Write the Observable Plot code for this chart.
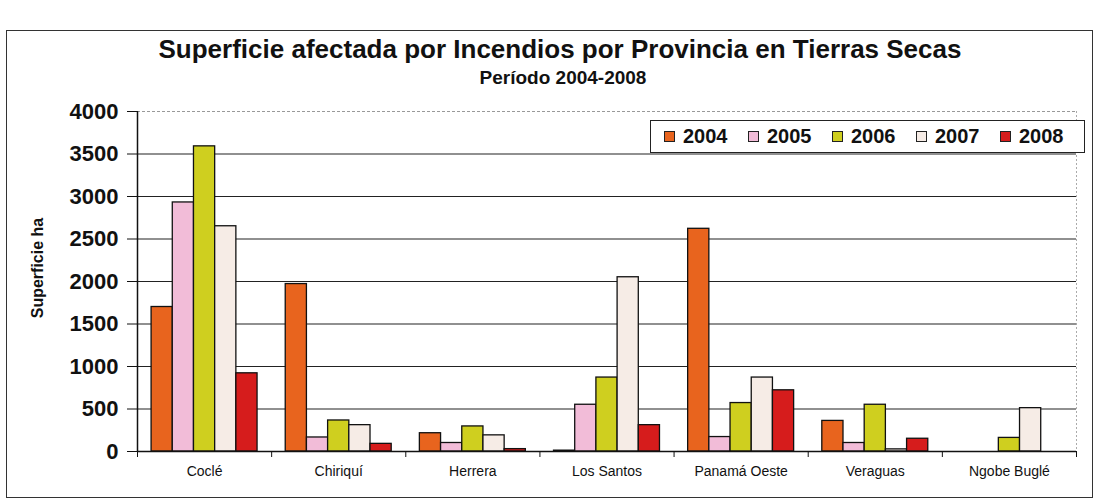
<!DOCTYPE html>
<html><head><meta charset="utf-8">
<script src="https://cdn.jsdelivr.net/npm/d3@7"></script>
<script src="https://cdn.jsdelivr.net/npm/@observablehq/plot@0.6"></script>
<style>
body{margin:0;background:#fff;font-family:"Liberation Sans",Arial,sans-serif;color:#111;}
#wrap{position:relative;width:1102px;height:500px;overflow:hidden;background:#fff;}
#frame{position:absolute;left:6px;top:30px;width:1087px;height:468px;border:1.5px solid #333;box-sizing:border-box;}
#title{position:absolute;left:9px;width:1102px;top:34px;text-align:center;font-weight:bold;font-size:26px;line-height:30px;}
#subtitle{position:absolute;left:12px;width:1102px;top:67px;text-align:center;font-weight:bold;font-size:19px;line-height:22px;}
#ylabel{position:absolute;left:38px;top:268px;transform:translate(-50%,-50%) rotate(-90deg);font-weight:bold;font-size:16px;white-space:nowrap;}
#chart{position:absolute;left:0;top:0;}
#legend{position:absolute;left:650px;top:120px;width:435px;height:33px;border:1.5px solid #222;box-sizing:border-box;background:#fff;display:flex;align-items:center;padding-left:13px;}
.item{width:87px;display:flex;align-items:center;font-size:20px;font-weight:bold;}
.sw{width:9px;height:9px;border:1px solid #222;margin-right:8px;}
</style>
</head><body>
<div id="wrap">
  <div id="frame"></div>
  <div id="chart"></div>
  <div id="title"></div>
  <div id="subtitle"></div>
  <div id="ylabel"></div>
  <div id="legend"></div>
</div>
<script>
const titleText = "Superficie afectada por Incendios por Provincia en Tierras Secas";
const subtitleText = "Período 2004-2008";
const yLabel = "Superficie ha";
const provinces = ["Coclé","Chiriquí","Herrera","Los Santos","Panamá Oeste","Veraguas","Ngobe Buglé"];
const years = ["2004","2005","2006","2007","2008"];
const v2004 = [1700,1970,215,10,2620,360,0];
const v2005 = [2930,165,100,550,170,100,0];
const v2006 = [3590,365,295,870,570,550,160];
const v2007 = [2650,310,190,2050,870,25,510];
const v2008 = [920,90,28,310,720,150,0];
const yTicks = [0,500,1000,1500,2000,2500,3000,3500,4000];
const colors = ["#e8641e","#f2bcd8","#cfcf1f","#f6ece6","#d61c1c"];

const series = [v2004,v2005,v2006,v2007,v2008];
const data = provinces.flatMap((p,i)=>years.map((yr,j)=>({province:p,year:yr,value:series[j][i],pi:i,yi:j})));
const pad = 0.105, bw = 0.158;

document.getElementById("title").textContent = titleText;
document.getElementById("subtitle").textContent = subtitleText;
document.getElementById("ylabel").textContent = yLabel;
const lg = document.getElementById("legend");
years.forEach((y,i)=>{
  const it = document.createElement("div"); it.className="item";
  const sw = document.createElement("div"); sw.className="sw"; sw.style.background=colors[i];
  const tx = document.createElement("span"); tx.textContent=y;
  it.appendChild(sw); it.appendChild(tx); lg.appendChild(it);
});

const plot = Plot.plot({
  width: 1102,
  height: 500,
  marginLeft: 137,
  marginRight: 26,
  marginTop: 111,
  marginBottom: 49,
  style: {fontFamily: '"Liberation Sans", Arial, sans-serif', color: "#111", background: "transparent"},
  x: {domain: [0, provinces.length], axis: null},
  y: {domain: [0, 4000], axis: null},
  color: {domain: years, range: colors},
  marks: [
    Plot.ruleY(yTicks.filter(t => t > 0 && t < 4000), {stroke: "#222", strokeWidth: 1.2}),
    Plot.ruleY([4000], {stroke: "#999", strokeDasharray: "3,2"}),
    Plot.ruleX([provinces.length], {stroke: "#aaa", strokeDasharray: "2,2"}),
    Plot.rectY(data, {
      x1: d => d.pi + pad + d.yi * bw,
      x2: d => d.pi + pad + (d.yi + 1) * bw,
      y: "value",
      fill: "year",
      stroke: "#111",
      strokeWidth: 1.3
    }),
    Plot.ruleY([0], {stroke: "#111", strokeWidth: 1.5}),
    Plot.ruleX([0], {stroke: "#111", strokeWidth: 1.5}),
    Plot.axisY({ticks: yTicks, tickSize: 10, tickPadding: 9, fontSize: 22, fontWeight: "bold", label: null, tickFormat: d => String(d)}),
    Plot.axisX({ticks: d3.range(0, provinces.length + 1), tickSize: 6, tickFormat: () => "", label: null}),
    Plot.axisX({ticks: provinces.map((p,i) => i + 0.5), tickSize: 0, tickPadding: 15, fontSize: 14, letterSpacing: "0.6px", tickFormat: d => provinces[Math.floor(d)], label: null})
  ]
});
document.getElementById("chart").appendChild(plot);
</script>
</body></html>
